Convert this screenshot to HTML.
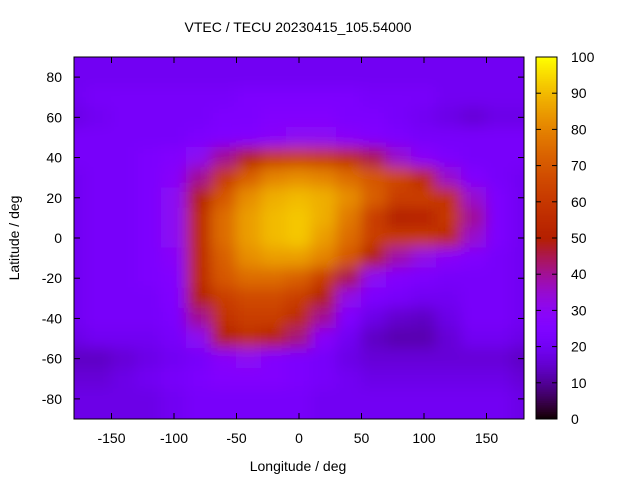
<!DOCTYPE html>
<html><head><meta charset="utf-8"><style>
body{margin:0;background:#fff;}
svg text{font-family:"Liberation Sans",sans-serif;font-size:14px;fill:#000;}
</style></head><body>
<svg id="c" width="640" height="480">
<defs>
<clipPath id="clip"><rect x="74" y="57" width="450" height="362"/></clipPath>
<filter id="blur" filterUnits="userSpaceOnUse" x="0" y="0" width="640" height="480"><feGaussianBlur stdDeviation="7"/></filter>
</defs>
<text x="298" y="32" text-anchor="middle">VTEC / TECU 20230415_105.54000</text>
<g id="heat" clip-path="url(#clip)"></g>
<rect x="74" y="57" width="450" height="362" fill="none" stroke="#000"/>
<g id="axes"></g>
<text x="298" y="471" text-anchor="middle">Longitude / deg</text>
<text transform="translate(19,238) rotate(-90)" text-anchor="middle">Latitude / deg</text>
<g id="cbar"></g>
</svg>
<script>
const lons=[-180,-160,-140,-120,-100,-80,-60,-40,-20,0,20,40,60,80,100,120,140,160,180];
const lats=[80,70,60,50,40,30,20,10,0,-10,-20,-30,-40,-50,-60,-70,-80];
const vtec=[
[20,20,20,20,20,20,20,20,20,20,20,20,20,20,20,20,20,20,20],
[20,22,22,22,22,22,22,24,24,24,24,24,22,22,22,20,20,20,20],
[18,20,22,22,22,22,24,24,26,26,26,24,24,22,20,18,16,18,18],
[22,22,22,22,22,24,25,26,28,30,30,28,26,24,22,22,22,22,22],
[22,22,22,24,26,30,40,50,60,62,60,55,45,35,28,24,22,22,22],
[20,22,22,24,28,40,60,72,80,82,80,75,70,65,55,35,25,22,20],
[20,22,22,24,30,50,70,82,88,90,88,82,72,62,62,58,35,24,20],
[20,22,22,24,30,55,75,85,90,92,88,78,62,50,52,60,40,24,20],
[20,22,22,24,30,55,75,85,90,92,85,75,62,60,60,55,35,24,20],
[20,22,22,24,28,55,72,82,85,85,80,70,50,38,32,28,25,22,20],
[20,22,22,24,26,55,70,75,75,72,62,45,30,26,24,22,22,22,20],
[20,22,22,22,25,50,62,66,66,62,50,32,24,22,20,20,22,22,20],
[20,22,22,22,24,40,58,62,62,55,40,25,18,15,14,18,22,22,20],
[18,20,20,20,22,30,50,56,52,42,28,20,14,12,12,16,20,20,18],
[14,14,16,18,20,22,28,30,26,24,22,18,16,16,16,16,16,16,14],
[16,16,18,20,22,24,26,26,26,24,22,20,18,18,18,18,18,18,16],
[18,18,18,18,20,22,22,22,22,22,20,20,20,20,20,20,20,20,18]];
const cbTicks=[0,10,20,30,40,50,60,70,80,90,100];
const xTicks=[-150,-100,-50,0,50,100,150];
const yTicks=[-80,-60,-40,-20,0,20,40,60,80];
const NS="http://www.w3.org/2000/svg";
const X=l=>74+(l+180)*450/360, Y=l=>238-l*362/180, CY=v=>419-v*362/100;
function pal(v){let x=Math.max(0,Math.min(1,v/100));
 let r=Math.sqrt(x),g=x*x*x,b=Math.max(0,Math.sin(2*Math.PI*x));
 return `rgb(${Math.round(r*255)},${Math.round(g*255)},${Math.round(b*255)})`;}
function mk(tag,at,parent){const e=document.createElementNS(NS,tag);for(const k in at)e.setAttribute(k,at[k]);parent.appendChild(e);return e;}
const heat=document.getElementById('heat');
const hg=mk('g',{filter:'url(#blur)'},heat);
const dl=20,dp=10,E=40;
const nR=lats.length,nC=lons.length;
lats.forEach((la,i)=>lons.forEach((lo,j)=>{
 let x0=X(lo-dl/2)-0.5,x1=X(lo+dl/2)+0.5,y0=Y(la+dp/2)-0.5,y1=Y(la-dp/2)+0.5;
 if(i===0)y0-=E; if(i===nR-1)y1+=E; if(j===0)x0-=E; if(j===nC-1)x1+=E;
 const r=mk('rect',{x:x0,y:y0,width:x1-x0,height:y1-y0,fill:pal(vtec[i][j])},hg);
 
 
}));
const ax=document.getElementById('axes');
xTicks.forEach(t=>{mk('line',{x1:X(t),x2:X(t),y1:419,y2:413,stroke:'#000'},ax);mk('line',{x1:X(t),x2:X(t),y1:57,y2:63,stroke:'#000'},ax);
 const tx=mk('text',{x:X(t),y:443,'text-anchor':'middle'},ax);tx.textContent=t;
 
 });
yTicks.forEach(t=>{mk('line',{x1:74,x2:80,y1:Y(t),y2:Y(t),stroke:'#000'},ax);mk('line',{x1:524,x2:518,y1:Y(t),y2:Y(t),stroke:'#000'},ax);
 const tx=mk('text',{x:62,y:Y(t)+5,'text-anchor':'end'},ax);tx.textContent=t;
 
 });
const cb=document.getElementById('cbar');
for(let v=0;v<100;v+=0.5){mk('rect',{x:536,y:CY(v+0.5)-0.3,width:21,height:362/200+0.6,fill:pal(v+0.25)},cb);}
mk('rect',{x:536,y:57,width:21,height:362,fill:'none',stroke:'#000'},cb);
cbTicks.forEach(t=>{mk('line',{x1:536,x2:541,y1:CY(t),y2:CY(t),stroke:'#000'},cb);mk('line',{x1:557,x2:552,y1:CY(t),y2:CY(t),stroke:'#000'},cb);
 const tx=mk('text',{x:571,y:CY(t)+5},cb);tx.textContent=t;
 
 });
</script>
</body></html>
